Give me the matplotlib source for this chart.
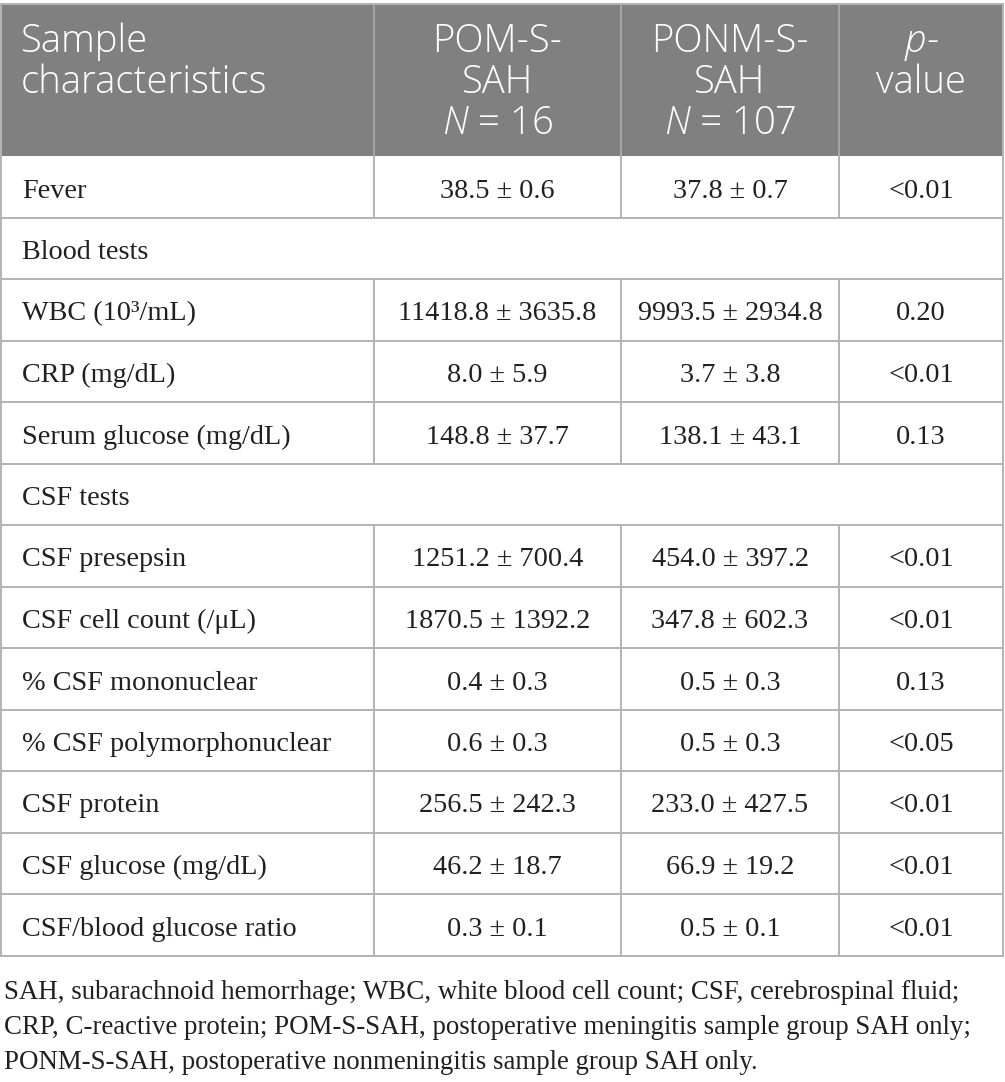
import matplotlib
matplotlib.use("Agg")
import matplotlib.pyplot as plt
from matplotlib.patches import Rectangle

plt.rcParams['mathtext.fontset'] = 'custom'
plt.rcParams['mathtext.rm'] = 'Open Sans:light'
plt.rcParams['mathtext.it'] = 'Open Sans:italic:light'

header = [["Sample", "characteristics"],
          ["POM-S-", "SAH", "$N$ = 16"],
          ["PONM-S-", "SAH", "$N$ = 107"],
          ["$p$-", "value"]]

rows = ["Fever", "Blood tests", "WBC (10³/mL)", "CRP (mg/dL)", "Serum glucose (mg/dL)",
        "CSF tests", "CSF presepsin", "CSF cell count (/μL)", "% CSF mononuclear",
        "% CSF polymorphonuclear", "CSF protein", "CSF glucose (mg/dL)",
        "CSF/blood glucose ratio"]
pom = ["38.5 ± 0.6", None, "11418.8 ± 3635.8", "8.0 ± 5.9", "148.8 ± 37.7", None,
       "1251.2 ± 700.4", "1870.5 ± 1392.2", "0.4 ± 0.3", "0.6 ± 0.3", "256.5 ± 242.3",
       "46.2 ± 18.7", "0.3 ± 0.1"]
ponm = ["37.8 ± 0.7", None, "9993.5 ± 2934.8", "3.7 ± 3.8", "138.1 ± 43.1", None,
        "454.0 ± 397.2", "347.8 ± 602.3", "0.5 ± 0.3", "0.5 ± 0.3", "233.0 ± 427.5",
        "66.9 ± 19.2", "0.5 ± 0.1"]
pval = ["<0.01", None, "0.20", "<0.01", "0.13", None, "<0.01", "<0.01", "0.13",
        "<0.05", "<0.01", "<0.01", "<0.01"]

footnote = ["SAH, subarachnoid hemorrhage; WBC, white blood cell count; CSF, cerebrospinal fluid;",
            "CRP, C-reactive protein; POM-S-SAH, postoperative meningitis sample group SAH only;",
            "PONM-S-SAH, postoperative nonmeningitis sample group SAH only."]

W, H = 1005, 1082
fig = plt.figure(figsize=(W / 100, H / 100), dpi=100)
ax = fig.add_axes([0, 0, 1, 1])
ax.set_xlim(0, W)
ax.set_ylim(H, 0)
ax.axis('off')

xcols = [1, 374, 621, 839, 1003]
top, hbot = 4, 156
rh = (955.5 - hbot) / len(rows)
gridc = '#b3b3b3'
lw = 1.4
tc = '#231f20'

# header
ax.add_patch(Rectangle((xcols[0], top), xcols[-1] - xcols[0], hbot - top,
                       facecolor='#808080', edgecolor='none'))
for x in xcols[1:-1]:
    ax.plot([x, x], [top, hbot], color='#a6a6a6', lw=lw)
hfs = 27.5
for j, lines in enumerate(header):
    for k, t in enumerate(lines):
        y = 52 + k * 41
        if j == 0:
            ax.text(21, y, t, color='white', fontsize=hfs, family='Open Sans',
                    fontweight='light', ha='left', va='baseline')
        else:
            cx = (xcols[j] + xcols[j + 1]) / 2
            ax.text(cx, y, t, color='white', fontsize=hfs, family='Open Sans',
                    fontweight='light', ha='center', va='baseline')

bfs = 20.3
for i, name in enumerate(rows):
    y0 = hbot + i * rh
    yb = y0 + 41.5
    ax.text(22, yb, name, fontsize=bfs, family='Liberation Serif', ha='left',
            va='baseline', color=tc)
    if pom[i] is not None:
        for j, v in enumerate([pom[i], ponm[i], pval[i]]):
            cx = (xcols[j + 1] + xcols[j + 2]) / 2
            ax.text(cx, yb, v, fontsize=bfs, family='Liberation Serif',
                    ha='center', va='baseline', color=tc)
        for x in xcols[1:-1]:
            ax.plot([x, x], [y0, y0 + rh], color=gridc, lw=lw)
    ax.plot([xcols[0], xcols[-1]], [y0 + rh, y0 + rh], color=gridc, lw=lw)

# outer border
ax.plot([xcols[0], xcols[0]], [top, 955.5], color=gridc, lw=lw)
ax.plot([xcols[-1], xcols[-1]], [top, 955.5], color=gridc, lw=lw)
ax.plot([xcols[0], xcols[-1]], [top, top], color=gridc, lw=lw)

for k, t in enumerate(footnote):
    ax.text(4, 999 + k * 35, t, fontsize=19.4, family='Liberation Serif',
            ha='left', va='baseline', color=tc)

fig.savefig('out.png', dpi=100)
